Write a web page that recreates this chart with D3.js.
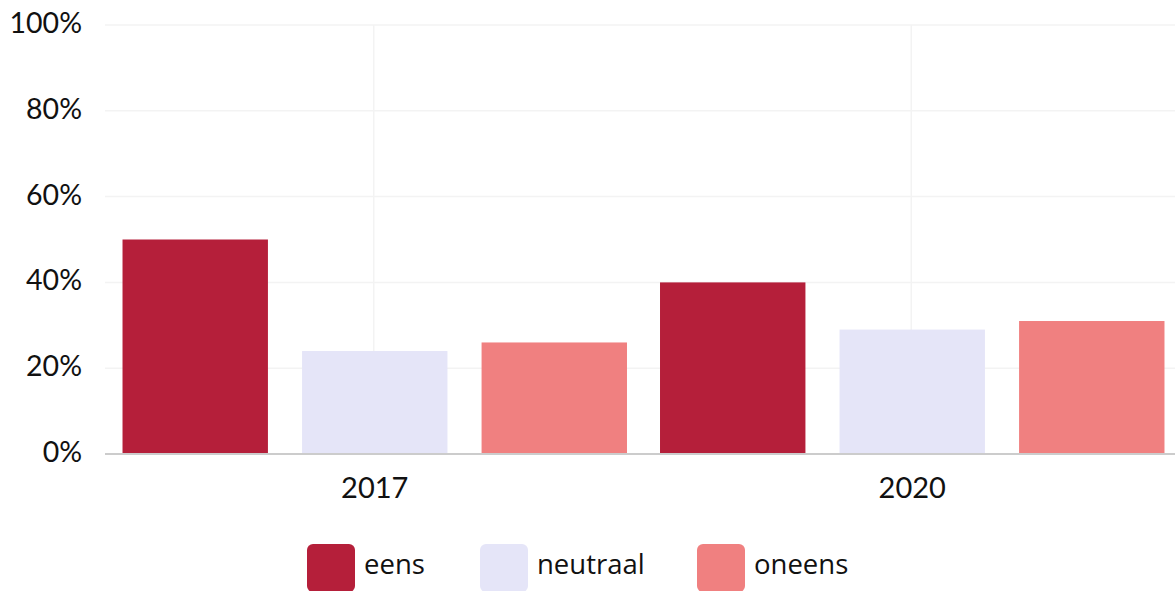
<!DOCTYPE html>
<html>
<head>
<meta charset="utf-8">
<script src="https://cdn.jsdelivr.net/npm/d3@7"></script>
<style>
  html, body { margin: 0; padding: 0; background: #fff; }
  svg { display: block; }
</style>
</head>
<body>
<svg id="chart" width="1175" height="591"></svg>
<script>
var years = ["2017", "2020"];
var series = ["eens", "neutraal", "oneens"];
var eens = [50, 40];
var neutraal = [24, 29];
var oneens = [26, 31];
var yTicks = [0, 20, 40, 60, 80, 100];
var colors = ["#b51f3a", "#e5e5f8", "#f08080"];

var values = { eens: eens, neutraal: neutraal, oneens: oneens };
var rows = years.map(function (y, i) {
  return series.map(function (s) { return { year: y, key: s, value: values[s][i] }; });
});

var svg = d3.select("#chart");
var plotLeft = 106, plotRight = 1181, plotTop = 25, plotBottom = 454;

var x0 = d3.scaleBand().domain(years).range([plotLeft, plotRight]).padding(0);
var x1 = d3.scaleBand().domain(series).range([0, x0.bandwidth()])
  .paddingInner(0.19).paddingOuter(0.092);
var y = d3.scaleLinear().domain([0, 100]).range([plotBottom, plotTop]);
var color = d3.scaleOrdinal().domain(series).range(colors);

// grid
svg.append("g").selectAll("line")
  .data(yTicks.filter(function (d) { return d > 0; }))
  .enter().append("line")
  .attr("x1", plotLeft - 1).attr("x2", 1175)
  .attr("y1", function (d) { return y(d); })
  .attr("y2", function (d) { return y(d); })
  .attr("stroke", "#f3f3f3").attr("stroke-width", 1.5);

svg.append("g").selectAll("line")
  .data(years)
  .enter().append("line")
  .attr("x1", function (d) { return x0(d) + x0.bandwidth() / 2 - 1; })
  .attr("x2", function (d) { return x0(d) + x0.bandwidth() / 2 - 1; })
  .attr("y1", plotTop).attr("y2", plotBottom)
  .attr("stroke", "#f3f3f3").attr("stroke-width", 1.5);

// bars
svg.append("g").selectAll("g")
  .data(rows)
  .enter().append("g")
  .attr("transform", function (d) { return "translate(" + x0(d[0].year) + ",0)"; })
  .selectAll("rect")
  .data(function (d) { return d; })
  .enter().append("rect")
  .attr("x", function (d) { return x1(d.key); })
  .attr("width", x1.bandwidth())
  .attr("y", function (d) { return y(d.value); })
  .attr("height", function (d) { return plotBottom - y(d.value); })
  .attr("fill", function (d) { return color(d.key); });

// axis baseline
svg.append("line")
  .attr("x1", plotLeft - 1).attr("x2", 1175)
  .attr("y1", plotBottom).attr("y2", plotBottom)
  .attr("stroke", "#cccccc").attr("stroke-width", 2);

// y labels
var yAxis = svg.append("g")
  .attr("transform", "translate(82,0)")
  .call(d3.axisLeft(y).tickValues(yTicks).tickSize(0).tickPadding(0)
    .tickFormat(function (d) { return d + "%"; }));
yAxis.select(".domain").remove();
yAxis.selectAll("text")
  .attr("font-family", "Lato, sans-serif").attr("font-size", 28.5)
  .attr("fill", "#111").attr("dy", "0.26em");

// x labels
var xAxis = svg.append("g")
  .attr("transform", "translate(0," + plotBottom + ")")
  .call(d3.axisBottom(x0).tickSize(0).tickPadding(23));
xAxis.select(".domain").remove();
xAxis.selectAll("text")
  .attr("font-family", "Lato, sans-serif").attr("font-size", 29)
  .attr("fill", "#111");

// legend
var legendX = [307, 480, 697];
var legend = svg.append("g").selectAll("g")
  .data(series)
  .enter().append("g")
  .attr("transform", function (d, i) { return "translate(" + legendX[i] + ",544)"; });
legend.append("rect")
  .attr("width", 48).attr("height", 48).attr("rx", 6)
  .attr("fill", function (d) { return color(d); });
legend.append("text")
  .attr("x", 57).attr("y", 30)
  .attr("font-family", "'Open Sans', sans-serif").attr("font-size", 27.5)
  .attr("fill", "#111")
  .text(function (d) { return d; });
</script>
</body>
</html>
